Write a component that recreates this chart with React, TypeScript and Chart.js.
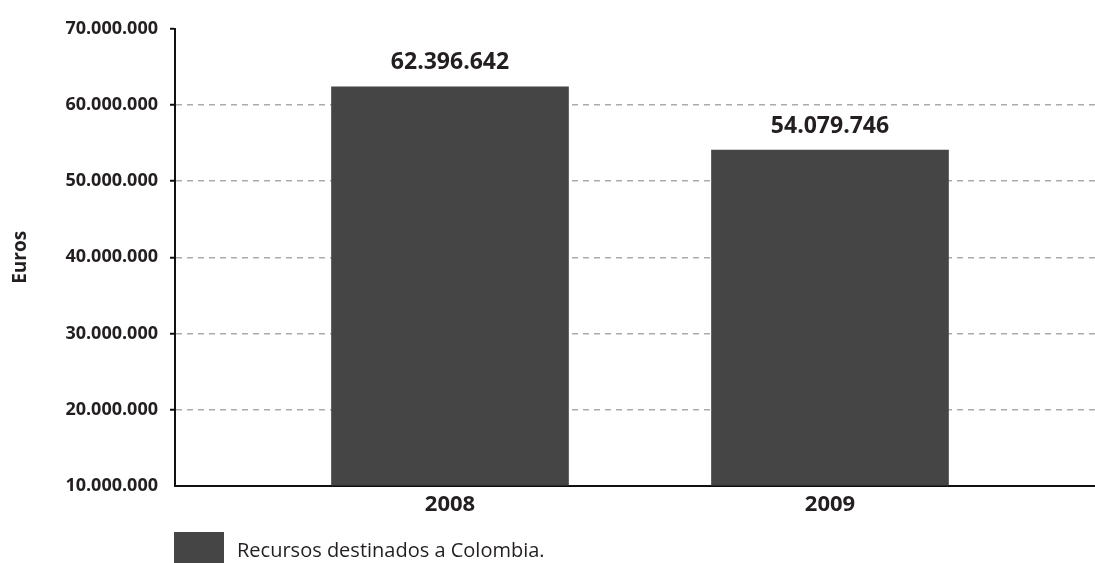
import React, { useEffect, useRef } from "react";
import { Chart, registerables } from "chart.js";

Chart.register(...registerables);

const years = [2008, 2009];
const values = [62396642, 54079746];
const seriesLabel = "Recursos destinados a Colombia.";
const yTitle = "Euros";
const yMin = 10000000;
const yMax = 70000000;
const yStep = 10000000;

const FONT = "'Open Sans', 'DejaVu Sans', sans-serif";
const TEXT = "#231f20";
const BAR = "#454545";

const fmt = (v: number) =>
  Math.round(v).toString().replace(/\B(?=(\d{3})+(?!\d))/g, ".");

const labelsPlugin = {
  id: "valueLabels",
  afterDatasetsDraw(chart: any) {
    const { ctx } = chart;
    const meta = chart.getDatasetMeta(0);
    ctx.save();
    ctx.font = `bold 23px ${FONT}`;
    ctx.fillStyle = TEXT;
    ctx.textAlign = "center";
    ctx.textBaseline = "middle";
    meta.data.forEach((bar: any, i: number) => {
      ctx.fillText(fmt(values[i]), bar.x, bar.y - 24);
    });
    ctx.restore();
  },
};

const legendPlugin = {
  id: "customLegend",
  afterDraw(chart: any) {
    const { ctx, chartArea } = chart;
    const ds = chart.data.datasets[0];
    ctx.save();
    ctx.fillStyle = ds.backgroundColor;
    ctx.fillRect(chartArea.left - 1, 532, 50, 32);
    ctx.font = `20px ${FONT}`;
    ctx.fillStyle = TEXT;
    ctx.textAlign = "left";
    ctx.textBaseline = "middle";
    ctx.fillText(ds.label, chartArea.left + 62, 551);
    ctx.restore();
  },
};

export default function App() {
  const ref = useRef<HTMLCanvasElement | null>(null);
  useEffect(() => {
    if (!ref.current) return;
    const chart = new Chart(ref.current, {
      type: "bar",
      data: {
        datasets: [
          {
            label: seriesLabel,
            data: years.map((y, i) => ({ x: y, y: values[i] })),
            backgroundColor: BAR,
            borderWidth: 0,
            barThickness: 237,
          },
        ],
      },
      options: {
        animation: false,
        responsive: true,
        maintainAspectRatio: false,
        layout: { padding: { top: 29, left: 0, right: 0, bottom: 39 } },
        plugins: {
          legend: { display: false },
          tooltip: { enabled: false },
        },
        scales: {
          x: {
            type: "linear",
            min: 2007.2763,
            max: 2009.6974,
            offset: false,
            afterBuildTicks: (scale: any) => {
              scale.ticks = years.map((v) => ({ value: v }));
            },
            grid: { display: false, drawTicks: false },
            border: { display: true, color: "#111", width: 2 },
            ticks: {
              padding: 6,
              color: TEXT,
              font: { family: FONT, size: 22, weight: "bold" },
              callback: (v: any) => String(v),
              autoSkip: false,
              maxRotation: 0,
            },
          },
          y: {
            min: yMin,
            max: yMax,
            afterFit: (scale: any) => {
              scale.width = 175;
            },
            title: {
              display: true,
              text: yTitle,
              color: TEXT,
              font: { family: FONT, size: 19, weight: "bold" },
              padding: { top: 9, bottom: 0 },
            },
            grid: {
              color: (c: any) =>
                c.tick && (c.tick.value === yMax || c.tick.value === yMin)
                  ? "rgba(0,0,0,0)"
                  : "#ababab",
              lineWidth: 1.5,
              tickColor: (c: any) =>
                c.tick && c.tick.value === yMin ? "rgba(0,0,0,0)" : "#111",
              tickLength: 5,
              tickWidth: 2,
              tickBorderDash: [],
            },
            border: { display: true, color: "#111", width: 2, dash: [6, 5] },
            ticks: {
              stepSize: yStep,
              padding: 12,
              color: TEXT,
              font: { family: FONT, size: 18, weight: "bold" },
              callback: (v: any) => fmt(Number(v)),
            },
          },
        },
      },
      plugins: [labelsPlugin, legendPlugin],
    } as any);
    return () => chart.destroy();
  }, []);
  return (
    <div style={{ position: "fixed", left: 0, top: 0, width: 1095, height: 563, background: "#fff" }}>
      <canvas ref={ref} />
    </div>
  );
}
